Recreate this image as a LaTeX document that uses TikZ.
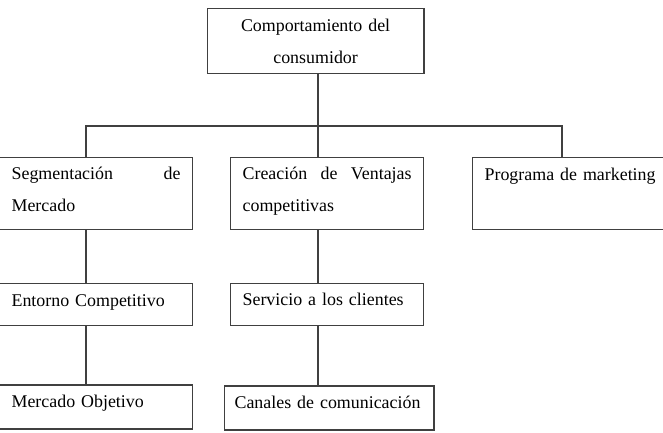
\documentclass[tikz,border=0pt]{standalone}
\usepackage{fontspec}
\setmainfont{Liberation Serif}
\definecolor{LineGray}{RGB}{64,64,64}
\hyphenpenalty=10000

\begin{document}
\begin{tikzpicture}[x=1pt, y=-1pt,
  every node/.style={font=\fontsize{17.9}{31.5}\selectfont},
  box/.style={draw=LineGray, line width=1.2pt, inner xsep=12pt, inner ysep=0pt, anchor=north west, align=left},
  link/.style={draw=LineGray, line width=1.2pt}]
  \useasboundingbox (0,0) rectangle (663,433);
  \clip (0,0) rectangle (663,433);
  % root
  \node[box, align=center, inner xsep=0pt, text width=216.6pt, text height=23pt, text depth=41.4pt] (top) at (206.7,8.3) {Comportamiento del\\consumidor};
  % second level
  \node[box, text width=169pt, text height=22.5pt, text depth=50pt] (seg) at (-1,156.5) {Segmentación \hfill de\\Mercado};
  \node[box, text width=169pt, text height=22.5pt, text depth=50pt] (cre) at (230,156.5) {Creación \hfill de \hfill Ventajas\\competitivas};
  \node[box, text width=180pt, text height=23.5pt, text depth=49pt] (prog) at (472,156.5) {Programa de marketing};
  % third level
  \node[box, text width=169pt, text height=23pt, text depth=19.3pt] (ent) at (-1,282.7) {Entorno Competitivo};
  \node[box, text width=169pt, text height=22.5pt, text depth=19.8pt] (serv) at (230,282.7) {Servicio a los clientes};
  % fourth level
  \node[box, text width=169pt, text height=22.7pt, text depth=21.3pt] (obj) at (-1,384.3) {Mercado Objetivo};
  \node[box, inner xsep=10pt, text width=189.3pt, text height=22.7pt, text depth=21.3pt] (can) at (224,385.3) {Canales de comunicación};

  % branch points
  \coordinate (busL) at (86,126);
  \coordinate (busM) at (318,126);
  \coordinate (busR) at (562,126);

  \draw[link] (busM |- top.south) -- (busM |- cre.north);
  \draw[link] (busL |- seg.north) -- (busL) -- (busR) -- (busR |- prog.north);
  \draw[link] (busL |- seg.south) -- (busL |- ent.north);
  \draw[link] (busL |- ent.south) -- (busL |- obj.north);
  \draw[link] (busM |- cre.south) -- (busM |- serv.north);
  \draw[link] (busM |- serv.south) -- (busM |- can.north);
\end{tikzpicture}
\end{document}
